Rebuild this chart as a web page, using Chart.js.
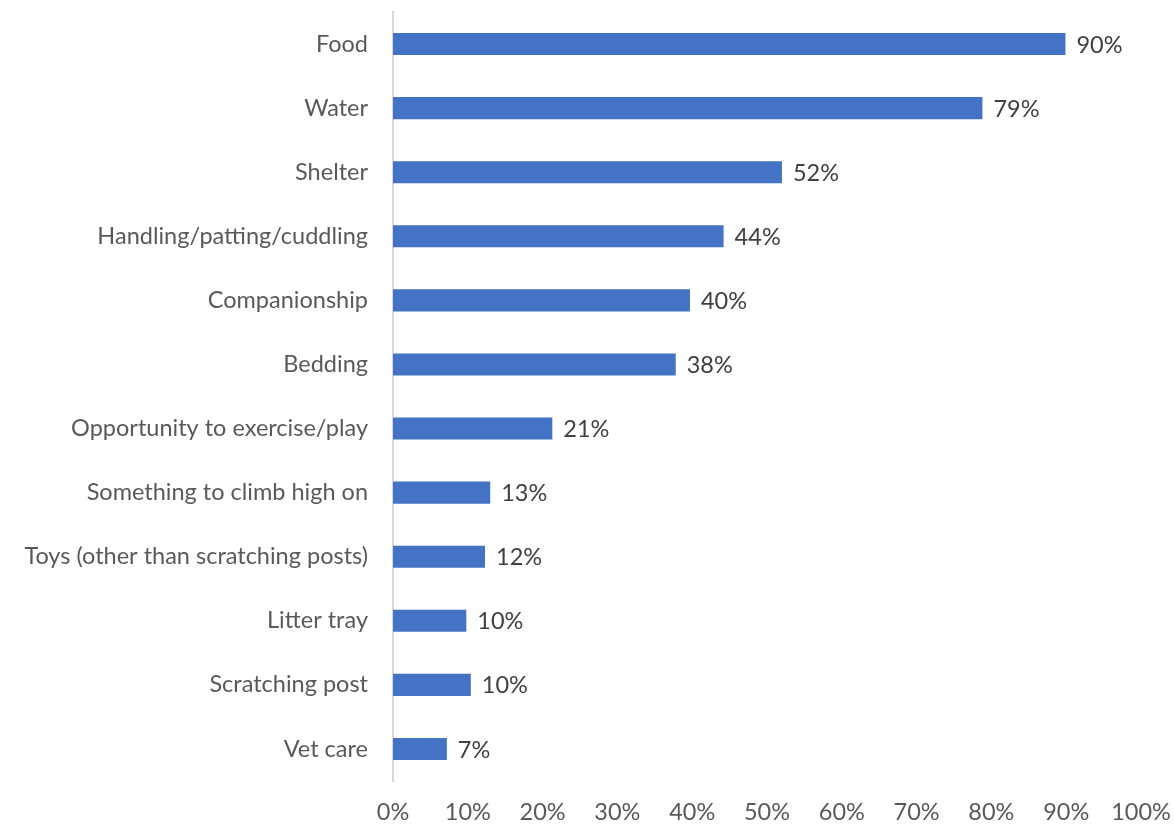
<!DOCTYPE html>
<html>
<head>
<meta charset="utf-8">
<script src="https://cdn.jsdelivr.net/npm/chart.js@4/dist/chart.umd.min.js"></script>
<style>
  html, body { margin: 0; padding: 0; background: #fff; }
  #wrap { width: 1174px; height: 825px; position: relative; }
</style>
</head>
<body>
<div id="wrap"><canvas id="chart"></canvas></div>
<script>
const categories = [
  "Food",
  "Water",
  "Shelter",
  "Handling/patting/cuddling",
  "Companionship",
  "Bedding",
  "Opportunity to exercise/play",
  "Something to climb high on",
  "Toys (other than scratching posts)",
  "Litter tray",
  "Scratching post",
  "Vet care"
];
const shares = [89.9, 78.8, 52.0, 44.2, 39.7, 37.8, 21.3, 13.0, 12.3, 9.8, 10.4, 7.2];
const tickValues = [0, 10, 20, 30, 40, 50, 60, 70, 80, 90, 100];

const FONT = "Lato, 'Open Sans', 'Noto Sans', sans-serif";
const SIZE = 23.5;

// draw the value labels at the end of each bar
const barLabels = {
  id: "barLabels",
  afterDatasetsDraw(chart) {
    const ctx = chart.ctx;
    const meta = chart.getDatasetMeta(0);
    ctx.save();
    ctx.font = SIZE + "px " + FONT;
    ctx.fillStyle = "#404040";
    ctx.textAlign = "left";
    ctx.textBaseline = "middle";
    meta.data.forEach((bar, i) => {
      ctx.fillText(Math.round(shares[i]) + "%", bar.x + 11, bar.y + 1);
    });
    ctx.restore();
  }
};

const ctx = document.getElementById("chart").getContext("2d");
new Chart(ctx, {
  type: "bar",
  data: {
    labels: categories,
    datasets: [{
      data: shares,
      backgroundColor: "#4472c4",
      borderWidth: 0,
      barPercentage: 0.345,
      categoryPercentage: 1
    }]
  },
  options: {
    indexAxis: "y",
    responsive: true,
    maintainAspectRatio: false,
    animation: false,
    layout: { padding: { top: 12, right: 33, bottom: 0, left: 0 } },
    plugins: {
      legend: { display: false },
      tooltip: { enabled: false }
    },
    scales: {
      x: {
        min: 0,
        max: 100,
        afterBuildTicks(axis) {
          axis.ticks = tickValues.map(v => ({ value: v }));
        },
        afterFit(axis) {
          axis.height = 44;
          axis.paddingLeft = 0;
          axis.paddingRight = 0;
        },
        grid: { display: false, drawTicks: false },
        border: { display: false },
        ticks: {
          padding: 17,
          color: "#595959",
          font: { family: FONT, size: SIZE },
          callback: v => v + "%"
        }
      },
      y: {
        afterFit(axis) {
          axis.width = 393;
          axis.paddingTop = 0;
          axis.paddingBottom = 0;
        },
        grid: { display: false, drawTicks: false },
        border: { display: true, color: "#d9d9d9", width: 2 },
        ticks: {
          padding: 25,
          color: "#595959",
          font: { family: FONT, size: SIZE }
        }
      }
    }
  },
  plugins: [barLabels]
});
</script>
</body>
</html>
